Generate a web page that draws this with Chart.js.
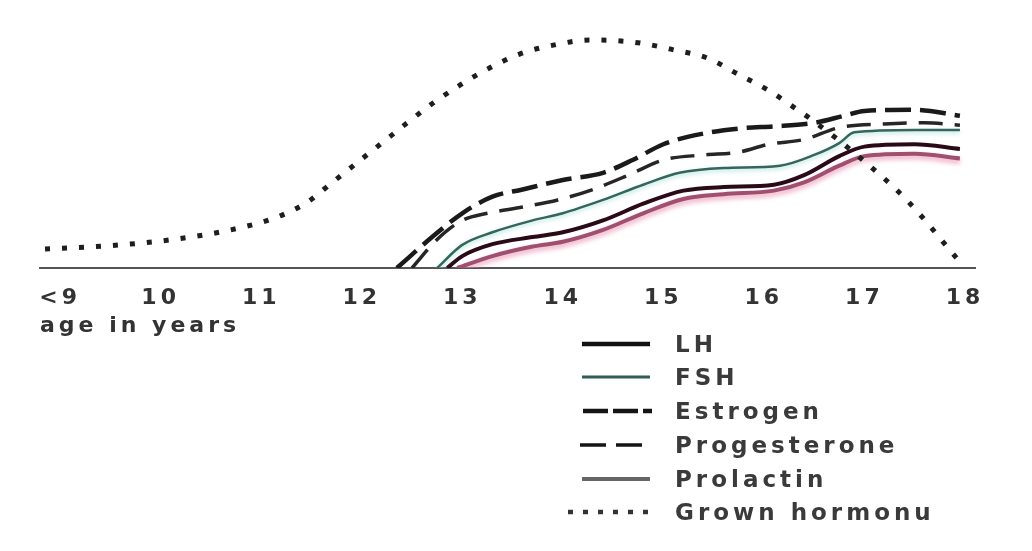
<!DOCTYPE html>
<html>
<head>
<meta charset="utf-8">
<script src="https://cdn.jsdelivr.net/npm/chart.js@4.4.1/dist/chart.umd.min.js"></script>
<style>
  html, body { margin: 0; padding: 0; background: #fff; }
  #wrap { position: relative; width: 1032px; height: 551px; overflow: hidden; background: #fff; }
  #cbox { position: absolute; left: 0; top: 0; width: 1032px; height: 345px; }
  #legend { position: absolute; left: 0; top: 0; width: 1032px; height: 551px; pointer-events: none; }
  .row { position: absolute; left: 560px; height: 30px; }
  .row svg { position: absolute; left: 0; top: 0; }
  .row span { position: absolute; left: 115px; top: 0; line-height: 30px; white-space: nowrap;
    font-family: "DejaVu Sans", sans-serif; font-weight: bold; font-size: 23px; letter-spacing: 4px; color: #3a3a3a; }
</style>
</head>
<body>
<div id="wrap">
  <div id="cbox"><canvas id="c"></canvas></div>
  <div id="legend"></div>
</div>
<script>
// ---- data (x = age in years, y = relative level, 0..100) ----
const xTickValues = [9, 10, 11, 12, 13, 14, 15, 16, 17, 18];
const xTickLabels = ['<9', '10', '11', '12', '13', '14', '15', '16', '17', '18'];
const seriesNames = ['LH', 'FSH', 'Estrogen', 'Progesterone', 'Prolactin', 'Grown hormonu'];

const ghAges   = [8.85, 9.6, 10.3, 10.82, 11.16, 11.46, 11.7, 11.95, 12.2, 12.45, 12.71, 12.98, 13.27, 13.57, 13.95, 14.27, 14.5, 14.77, 15.11, 15.44, 15.74, 16.04, 16.31, 16.48, 16.95, 17.42, 17.95];
const ghLevels = [8, 9.7, 13, 17.2, 21.4, 27.7, 35.7, 44.1, 52.5, 60.9, 69.3, 76.9, 84, 89.9, 94, 95.8, 95.6, 94.5, 91.6, 88.2, 81.5, 74.8, 67.2, 62.2, 46.6, 28.6, 2.5];

const estAges   = [12.35, 12.7, 13.0, 13.3, 13.6, 14.0, 14.4, 14.7, 15.0, 15.4, 15.8, 16.1, 16.5, 16.8, 17.0, 17.5, 17.95];
const estLevels = [0, 13, 23, 30, 33, 37, 40, 45.5, 52, 56.5, 58.8, 59.5, 61, 64, 66, 66.5, 64];

const proAges   = [12.5, 12.75, 13.0, 13.25, 13.6, 13.95, 14.3, 14.65, 15.0, 15.4, 15.75, 16.05, 16.4, 16.75, 17.2, 17.6, 17.95];
const proLevels = [0, 12, 20, 23, 25.6, 28.6, 33, 39, 45.4, 47.5, 48.7, 52, 54, 59, 60.5, 61, 60];

const fshAges   = [12.75, 13.0, 13.3, 13.7, 14.0, 14.4, 14.8, 15.16, 15.6, 16.16, 16.5, 16.75, 16.9, 17.5, 17.95];
const fshLevels = [0, 9.7, 15, 20, 23, 28.6, 35, 40, 42, 43, 47.5, 52.5, 57, 58, 58];

const lhAges   = [12.85, 13.0, 13.3, 13.7, 14.0, 14.4, 14.8, 15.2, 15.6, 16.1, 16.4, 16.75, 17.0, 17.5, 17.95];
const lhLevels = [0, 5, 10, 13, 15, 20, 27, 32.5, 34, 35, 39, 47, 51, 52, 50];

const prlAges   = [12.95, 13.3, 13.7, 14.0, 14.4, 14.8, 15.2, 15.6, 16.1, 16.4, 16.75, 17.0, 17.5, 17.95];
const prlLevels = [0, 5, 9, 11, 16, 23, 29, 31, 32.5, 36, 43, 47, 48, 46];

function pts(xs, ys) { return xs.map((x, i) => ({ x: x, y: ys[i] })); }

const common = { pointRadius: 0, pointHoverRadius: 0, fill: false, cubicInterpolationMode: 'monotone', borderCapStyle: 'butt' };

const datasets = [
  Object.assign({ label: seriesNames[5], data: pts(ghAges, ghLevels), borderColor: '#1e1e1e', borderWidth: 5, borderDash: [5, 12], order: 0 }, common),
  Object.assign({ label: seriesNames[2], data: pts(estAges, estLevels), borderColor: '#1a1a1a', borderWidth: 4.5, borderDash: [26, 9], order: 1 }, common),
  Object.assign({ label: seriesNames[3], data: pts(proAges, proLevels), borderColor: '#262626', borderWidth: 3.5, borderDash: [24, 12], order: 2 }, common),
  Object.assign({ label: seriesNames[1], data: pts(fshAges, fshLevels), borderColor: '#35655b', borderWidth: 2.5, order: 3 }, common),
  Object.assign({ label: seriesNames[0], data: pts(lhAges, lhLevels), borderColor: '#2a0a16', borderWidth: 4, order: 4 }, common),
  Object.assign({ label: seriesNames[4], data: pts(prlAges, prlLevels), borderColor: '#a0506e', borderWidth: 4, order: 5 }, common)
];

const glowPlugin = {
  id: 'glow',
  beforeDatasetDraw(chart, args) {
    const ds = chart.data.datasets[args.index];
    const ctx = chart.ctx;
    ctx.save();
    if (ds.label === 'Prolactin') {
      ctx.shadowColor = 'rgba(235,150,180,0.9)';
      ctx.shadowBlur = 5;
      ctx.shadowOffsetY = 3;
    } else if (ds.label === 'FSH') {
      ctx.shadowColor = 'rgba(170,225,220,0.9)';
      ctx.shadowBlur = 4;
      ctx.shadowOffsetY = 2;
    }
  },
  afterDatasetDraw(chart) { chart.ctx.restore(); }
};

const spacingPlugin = {
  id: 'spacing',
  beforeDraw(chart) { try { chart.ctx.letterSpacing = '4px'; } catch (e) {} }
};

new Chart(document.getElementById('c'), {
  type: 'line',
  data: { datasets: datasets },
  plugins: [spacingPlugin, glowPlugin],
  options: {
    responsive: true,
    maintainAspectRatio: false,
    animation: false,
    layout: { padding: { left: 40, right: 57, top: 30, bottom: 0 } },
    plugins: { legend: { display: false }, tooltip: { enabled: false } },
    scales: {
      x: {
        type: 'linear',
        min: 8.8,
        max: 18.1,
        afterBuildTicks: (axis) => { axis.ticks = xTickValues.map(v => ({ value: v })); },
        afterFit: (axis) => { axis.height = 77; },
        grid: { display: false, drawTicks: false },
        border: { display: true, color: '#555', width: 2 },
        ticks: {
          padding: 17,
          maxRotation: 0,
          autoSkip: false,
          color: '#333',
          font: { family: 'DejaVu Sans', weight: 'bold', size: 22 },
          callback: (v) => { const i = xTickValues.indexOf(v); return i >= 0 ? xTickLabels[i] : ''; }
        },
        title: {
          display: true,
          text: 'age in years',
          align: 'start',
          color: '#333',
          padding: { top: 0, bottom: 6 },
          font: { family: 'DejaVu Sans', weight: 'bold', size: 22 }
        }
      },
      y: { display: false, min: 0, max: 100 }
    }
  }
});

// ---- HTML legend ----
const legendRows = [
  { name: seriesNames[0], y: 329, stroke: '#111', w: 4.5, dash: '', x1: 22, x2: 90 },
  { name: seriesNames[1], y: 362, stroke: '#2f5f55', w: 3, dash: '', x1: 22, x2: 90 },
  { name: seriesNames[2], y: 396, stroke: '#151515', w: 4.5, dash: '25 5', x1: 23, x2: 92 },
  { name: seriesNames[3], y: 430, stroke: '#151515', w: 3.5, dash: '26 10', x1: 20, x2: 90 },
  { name: seriesNames[4], y: 464, stroke: '#666', w: 4, dash: '', x1: 22, x2: 90 },
  { name: seriesNames[5], y: 497, stroke: '#333', w: 4.5, dash: '5 10', x1: 8, x2: 90 }
];
const lg = document.getElementById('legend');
legendRows.forEach(r => {
  const d = document.createElement('div');
  d.className = 'row';
  d.style.top = r.y + 'px';
  d.innerHTML = '<svg width="110" height="30"><line x1="' + r.x1 + '" y1="15" x2="' + r.x2 + '" y2="15" stroke="' + r.stroke +
    '" stroke-width="' + r.w + '"' + (r.dash ? ' stroke-dasharray="' + r.dash + '"' : '') + '/></svg><span></span>';
  d.querySelector('span').textContent = r.name;
  lg.appendChild(d);
});
</script>
</body>
</html>
